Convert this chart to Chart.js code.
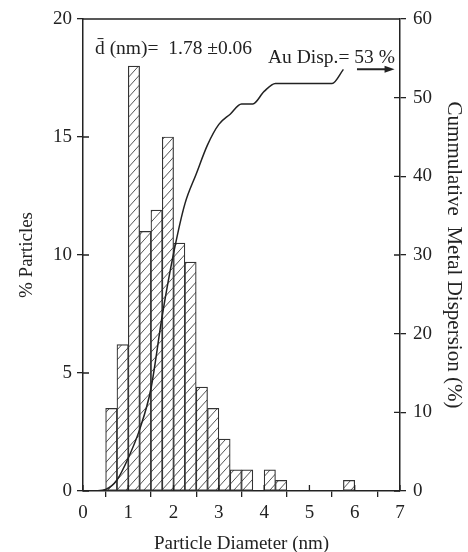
<!DOCTYPE html>
<html>
<head>
<meta charset="utf-8">
<script src="https://cdn.jsdelivr.net/npm/chart.js@4/dist/chart.umd.min.js"></script>
<style>
  body { margin: 0; background: #fff; }
  #wrap { width: 468px; height: 552px; }
</style>
</head>
<body>
<div id="wrap"><canvas id="grafico" width="468" height="552"></canvas></div>
<script>
// bins of 0.25 nm
const binCentres = [0.625, 0.875, 1.125, 1.375, 1.625, 1.875, 2.125, 2.375, 2.625, 2.875, 3.125, 3.375, 3.625, 4.125, 4.375, 5.875];
const pctParticles = [3.5, 6.2, 18.0, 11.0, 11.9, 15.0, 10.5, 9.7, 4.4, 3.5, 2.2, 0.9, 0.9, 0.9, 0.45, 0.45];

// cumulative metal dispersion curve (right axis)
const dispX = [0.25, 0.5, 0.75, 1.0, 1.25, 1.5, 1.75, 2.0, 2.25, 2.5, 2.75, 3.0, 3.25, 3.5, 3.75, 4.0, 4.25, 5.5, 5.75];
const dispY = [0, 0.2, 1.4, 4.2, 7.8, 13.0, 22.3, 30.2, 36.5, 40.3, 44.0, 46.6, 47.9, 49.2, 49.2, 50.8, 51.8, 51.8, 53.6];

const xTicks = [0, 1, 2, 3, 4, 5, 6, 7];
const yLeftTicks = [0, 5, 10, 15, 20];
const yRightTicks = [0, 10, 20, 30, 40, 50, 60];

const serif = "'Liberation Serif', 'Times New Roman', serif";
const ink = "#222";

// === patron rayado ===
function rayado() {
  const w = 9, h = 10;
  const c = document.createElement("canvas");
  c.width = w; c.height = h;
  const g = c.getContext("2d");
  g.fillStyle = "#fff";
  g.fillRect(0, 0, w, h);
  g.strokeStyle = "#555";
  g.lineWidth = 1;
  g.beginPath();
  for (let k = -1; k <= 1; k++) {
    g.moveTo(k * w, h);
    g.lineTo((k + 1) * w, 0);
  }
  g.stroke();
  return g.createPattern(c, "repeat");
}

// ticks pointing inwards, top border, annotations
const marco = {
  id: "marco",
  afterDraw(chart) {
    const { ctx, chartArea: a, scales } = chart;
    const tin = 6;
    ctx.save();
    ctx.strokeStyle = ink;
    ctx.lineWidth = 1.3;
    ctx.beginPath();
    ctx.moveTo(a.left, a.top);
    ctx.lineTo(a.right, a.top);
    xTicks.forEach(v => {
      const p = scales.x.getPixelForValue(v);
      ctx.moveTo(p, a.bottom);
      ctx.lineTo(p, a.bottom - tin);
    });
    yLeftTicks.forEach(v => {
      const p = scales.y.getPixelForValue(v);
      ctx.moveTo(a.left, p);
      ctx.lineTo(a.left + tin, p);
    });
    yRightTicks.forEach(v => {
      const p = scales.y1.getPixelForValue(v);
      ctx.moveTo(a.right, p);
      ctx.lineTo(a.right - tin, p);
    });
    ctx.stroke();

    ctx.fillStyle = ink;
    ctx.font = "19.5px " + serif;
    ctx.textBaseline = "alphabetic";
    ctx.textAlign = "left";
    ctx.fillText("d\u0304 (nm)=  1.78 \u00b10.06", 95, 54);
    ctx.fillText("Au Disp.= 53 %", 268, 63);

    // arrow towards right axis
    const ya = scales.y1.getPixelForValue(53.6);
    const x0 = scales.x.getPixelForValue(6.05);
    const x1 = scales.x.getPixelForValue(6.88);
    ctx.lineWidth = 2;
    ctx.beginPath();
    ctx.moveTo(x0, ya);
    ctx.lineTo(x1 - 6, ya);
    ctx.stroke();
    ctx.beginPath();
    ctx.moveTo(x1, ya);
    ctx.lineTo(x1 - 10, ya - 3.5);
    ctx.lineTo(x1 - 10, ya + 3.5);
    ctx.closePath();
    ctx.fill();
    ctx.restore();
  }
};

const ctx = document.getElementById("grafico").getContext("2d");
const ejeComun = {
  grid: { drawOnChartArea: false, drawTicks: true, tickLength: 6, color: ink, lineWidth: 1.3 },
  border: { display: true, color: ink, width: 1.5 }
};
const fTick = { family: serif, size: 19 };
const fTitle = { family: serif, size: 19 };

new Chart(ctx, {
  type: "bar",
  data: {
    datasets: [
      {
        type: "line",
        data: dispX.map((x, i) => ({ x, y: dispY[i] })),
        yAxisID: "y1",
        borderColor: ink,
        borderWidth: 1.5,
        pointRadius: 0,
        cubicInterpolationMode: "monotone",
        order: 0
      },
      {
        type: "bar",
        data: binCentres.map((x, i) => ({ x, y: pctParticles[i] })),
        yAxisID: "y",
        backgroundColor: rayado(),
        borderColor: "#333",
        borderWidth: 1.2,
        borderSkipped: false,
        barPercentage: 1,
        categoryPercentage: 1,
        order: 1
      }
    ]
  },
  options: {
    responsive: false,
    devicePixelRatio: 1,
    animation: false,
    layout: { padding: { top: 19, left: 0, right: 0, bottom: 0 } },
    plugins: { legend: { display: false }, tooltip: { enabled: false } },
    scales: {
      x: {
        ...ejeComun,
        type: "linear",
        offset: false,
        min: 0, max: 7,
        ticks: { stepSize: 1, padding: 5, color: ink, font: fTick },
        title: { display: true, text: "Particle Diameter (nm)", color: ink, font: fTitle, padding: { top: 0, bottom: -3 } },
        afterFit: s => { s.height = 61; }
      },
      y: {
        ...ejeComun,
        position: "left",
        min: 0, max: 20,
        ticks: { stepSize: 5, padding: 5, color: ink, font: fTick },
        title: { display: true, text: "% Particles", color: ink, font: fTitle, padding: { top: 16, bottom: 0 } },
        afterFit: s => { s.width = 83; }
      },
      y1: {
        ...ejeComun,
        position: "right",
        min: 0, max: 60,
        ticks: { stepSize: 10, padding: 7, color: ink, font: fTick },
        title: { display: true, text: "Cummulative  Metal Dispersion (%)", color: ink, font: { family: serif, size: 21 }, padding: { top: 2, bottom: 0 } },
        afterFit: s => { s.width = 68; }
      }
    }
  },
  plugins: [marco]
});
</script>
</body>
</html>
